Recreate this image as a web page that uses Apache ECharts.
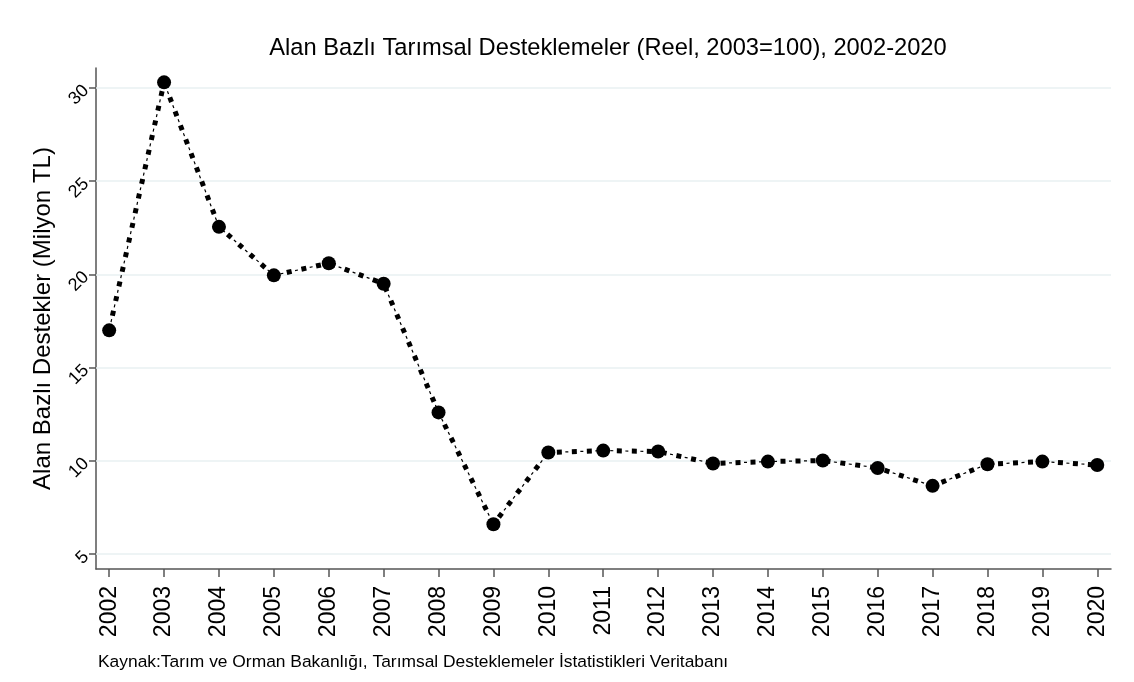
<!DOCTYPE html>
<html>
<head>
<meta charset="utf-8">
<script src="https://cdn.jsdelivr.net/npm/echarts@6/dist/echarts.min.js"></script>
<style>
  html, body { margin: 0; padding: 0; background: #fff; }
  #chart { width: 1134px; height: 682px; }
</style>
</head>
<body>
<div id="chart"></div>
<script>
const years = [2002, 2003, 2004, 2005, 2006, 2007, 2008, 2009, 2010, 2011,
  2012, 2013, 2014, 2015, 2016, 2017, 2018, 2019, 2020];
const destek = [17.0, 30.3, 22.55, 19.95, 20.6, 19.5, 12.6, 6.6, 10.45, 10.55,
  10.5, 9.86, 9.96, 10.02, 9.62, 8.66, 9.82, 9.96, 9.78];
const yTicks = [5, 10, 15, 20, 25, 30];

const titleText = "Alan Bazlı Tarımsal Desteklemeler (Reel, 2003=100), 2002-2020";
const yName = "Alan Bazlı Destekler (Milyon TL)";
const note = "Kaynak:Tarım ve Orman Bakanlığı, Tarımsal Desteklemeler İstatistikleri Veritabanı";

const points = years.map((y, i) => [y, destek[i]]);
const font = "Liberation Sans, Arial, sans-serif";

const chart = echarts.init(document.getElementById("chart"));
chart.setOption({
  animation: false,
  backgroundColor: "#fff",
  textStyle: { fontFamily: font },
  title: {
    text: titleText,
    left: 603,
    top: 31,
    textAlign: "center",
    textStyle: { fontSize: 23.7, fontWeight: "normal", color: "#000", fontFamily: font },
  },
  grid: { left: 96, right: 23, top: 68, bottom: 113 },
  xAxis: {
    type: "value",
    min: 2001.76,
    max: 2020.25,
    axisLine: { lineStyle: { color: "#555", width: 1.5 } },
    axisTick: { customValues: years, length: 8, lineStyle: { color: "#555", width: 1.5 } },
    axisLabel: {
      customValues: years,
      rotate: 90,
      fontSize: 23,
      color: "#000",
      margin: 17,
      formatter: (v) => String(v),
    },
    splitLine: { show: false },
  },
  yAxis: {
    type: "value",
    min: 4.2,
    max: 31.07,
    name: yName,
    nameLocation: "middle",
    nameRotate: 90,
    nameGap: 29,
    nameTextStyle: { fontSize: 24, color: "#000", fontFamily: font },
    axisLine: { show: true, lineStyle: { color: "#555", width: 1.5 } },
    axisTick: { show: true, customValues: yTicks, length: 7, lineStyle: { color: "#555", width: 1.5 } },
    axisLabel: { customValues: yTicks, rotate: 45, fontSize: 18, color: "#000", margin: 10 },
    splitLine: { show: false },
  },
  series: [
    {
      // ince kesikli ara cizgi
      type: "line",
      data: points,
      showSymbol: false,
      silent: true,
      z: 2,
      lineStyle: { color: "#000", width: 1.2, type: [3, 12], dashOffset: 6.5 },
      markLine: {
        silent: true,
        symbol: "none",
        label: { show: false },
        lineStyle: { color: "#e8f0f2", width: 1.5, type: "solid" },
        data: yTicks.map((t) => ({ yAxis: t })),
        z: 1,
      },
    },
    {
      type: "line",
      data: points,
      symbol: "circle",
      symbolSize: 14,
      showSymbol: true,
      z: 3,
      itemStyle: { color: "#000" },
      lineStyle: { color: "#000", width: 5, type: [5, 10], cap: "butt" },
    },
  ],
  graphic: [
    {
      type: "text",
      left: 98,
      top: 654,
      style: { text: note, fontSize: 17.4, fill: "#000", fontFamily: font },
    },
  ],
});
</script>
</body>
</html>
